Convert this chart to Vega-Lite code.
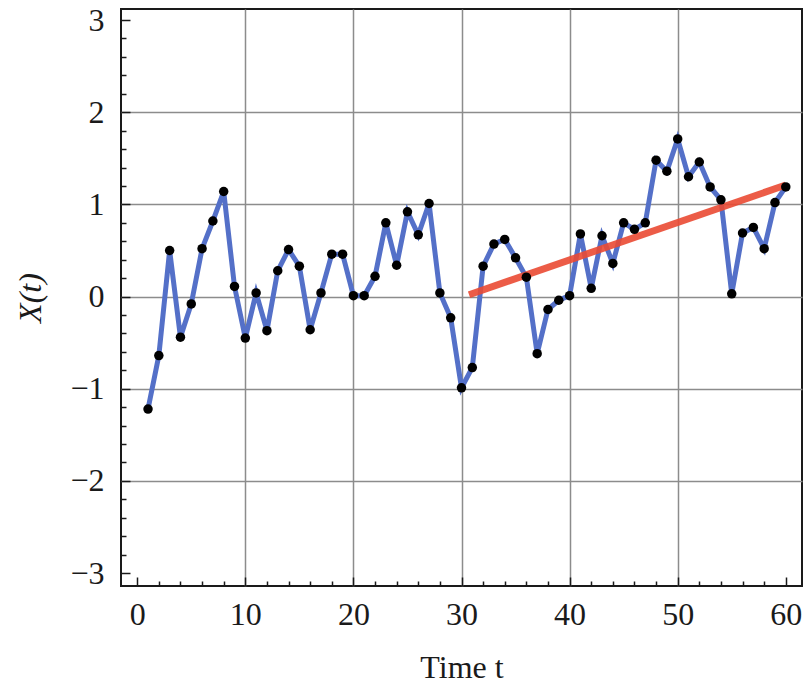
{
  "$schema": "https://vega.github.io/schema/vega-lite/v6.json",
  "width": 681,
  "height": 577,
  "autosize": {"type": "none"},
  "padding": {"left": 121, "top": 9, "right": 1, "bottom": 105},
  "background": "white",
  "config": {
    "view": {"stroke": "#1a1a1a", "strokeWidth": 2},
    "axis": {
      "domain": false,
      "labelFont": "Liberation Serif",
      "labelFontSize": 32,
      "labelColor": "#1a1a1a",
      "titleFont": "Liberation Serif",
      "titleFontSize": 32,
      "titleFontWeight": "normal",
      "titleColor": "#1a1a1a",
      "tickColor": "#1a1a1a",
      "tickWidth": 1.5,
      "gridColor": "#8c8c8c",
      "gridWidth": 1.5,
      "labelFlush": false,
      "labelOverlap": false,
      "tickCount": 200
    }
  },
  "datasets": {
    "series": [
      {"t": 1, "x": -1.22}, {"t": 2, "x": -0.64}, {"t": 3, "x": 0.5}, {"t": 4, "x": -0.44},
      {"t": 5, "x": -0.08}, {"t": 6, "x": 0.52}, {"t": 7, "x": 0.82}, {"t": 8, "x": 1.14},
      {"t": 9, "x": 0.11}, {"t": 10, "x": -0.45}, {"t": 11, "x": 0.04}, {"t": 12, "x": -0.37},
      {"t": 13, "x": 0.28}, {"t": 14, "x": 0.51}, {"t": 15, "x": 0.33}, {"t": 16, "x": -0.36},
      {"t": 17, "x": 0.04}, {"t": 18, "x": 0.46}, {"t": 19, "x": 0.46}, {"t": 20, "x": 0.01},
      {"t": 21, "x": 0.01}, {"t": 22, "x": 0.22}, {"t": 23, "x": 0.8}, {"t": 24, "x": 0.34},
      {"t": 25, "x": 0.92}, {"t": 26, "x": 0.67}, {"t": 27, "x": 1.01}, {"t": 28, "x": 0.04},
      {"t": 29, "x": -0.23}, {"t": 30, "x": -0.99}, {"t": 31, "x": -0.77}, {"t": 32, "x": 0.33},
      {"t": 33, "x": 0.57}, {"t": 34, "x": 0.62}, {"t": 35, "x": 0.42}, {"t": 36, "x": 0.21},
      {"t": 37, "x": -0.62}, {"t": 38, "x": -0.14}, {"t": 39, "x": -0.04}, {"t": 40, "x": 0.01},
      {"t": 41, "x": 0.68}, {"t": 42, "x": 0.09}, {"t": 43, "x": 0.66}, {"t": 44, "x": 0.36},
      {"t": 45, "x": 0.8}, {"t": 46, "x": 0.73}, {"t": 47, "x": 0.8}, {"t": 48, "x": 1.48},
      {"t": 49, "x": 1.36}, {"t": 50, "x": 1.71}, {"t": 51, "x": 1.3}, {"t": 52, "x": 1.46},
      {"t": 53, "x": 1.19}, {"t": 54, "x": 1.05}, {"t": 55, "x": 0.03}, {"t": 56, "x": 0.69},
      {"t": 57, "x": 0.75}, {"t": 58, "x": 0.52}, {"t": 59, "x": 1.02}, {"t": 60, "x": 1.19}
    ],
    "trend": [
      {"t": 30.7, "x": 0.02},
      {"t": 60, "x": 1.21}
    ]
  },
  "layer": [
    {
      "data": {"name": "series"},
      "mark": {"type": "line", "color": "#5470c8", "strokeWidth": 5},
      "encoding": {
        "x": {
          "field": "t", "type": "quantitative",
          "scale": {"domain": [-1.5, 61.5], "nice": false, "zero": false},
          "axis": {
            "title": "Time t",
            "titlePadding": 18,
            "tickCount": 200,
            "tickMinStep": 0.1,
            "values": [0,2,4,6,8,10,12,14,16,18,20,22,24,26,28,30,32,34,36,38,40,42,44,46,48,50,52,54,56,58,60],
            "labelExpr": "datum.value % 10 === 0 ? format(datum.value, 'd') : ''",
            "labelPadding": 22,
            "tickSize": {"condition": {"test": "datum.value % 10 === 0", "value": -9}, "value": -5},
            "gridOpacity": {"condition": {"test": "datum.value % 10 === 0 && datum.value > 5 && datum.value < 55", "value": 1}, "value": 0}
          }
        },
        "y": {
          "field": "x", "type": "quantitative",
          "scale": {"domain": [-3.14, 3.12], "nice": false, "zero": false},
          "axis": {
            "title": "X(t)",
            "titleFontStyle": "italic",
            "titlePadding": 22,
            "tickCount": 200,
            "tickMinStep": 0.1,
            "values": [-3,-2.8,-2.6,-2.4,-2.2,-2,-1.8,-1.6,-1.4,-1.2,-1,-0.8,-0.6,-0.4,-0.2,0,0.2,0.4,0.6,0.8,1,1.2,1.4,1.6,1.8,2,2.2,2.4,2.6,2.8,3],
            "labelExpr": "abs(datum.value - round(datum.value)) < 0.01 ? format(round(datum.value), 'd') : ''",
            "labelPadding": 26,
            "tickSize": {"condition": {"test": "abs(datum.value - round(datum.value)) < 0.01", "value": -9}, "value": -5},
            "gridOpacity": {"condition": {"test": "abs(datum.value - round(datum.value)) < 0.01 && abs(datum.value) < 2.5", "value": 1}, "value": 0}
          }
        }
      }
    },
    {
      "data": {"name": "trend"},
      "mark": {"type": "line", "color": "#ea4a33", "strokeWidth": 7, "opacity": 0.9},
      "encoding": {
        "x": {"field": "t", "type": "quantitative"},
        "y": {"field": "x", "type": "quantitative"}
      }
    },
    {
      "data": {"name": "series"},
      "mark": {"type": "circle", "color": "black", "size": 90, "opacity": 1},
      "encoding": {
        "x": {"field": "t", "type": "quantitative"},
        "y": {"field": "x", "type": "quantitative"}
      }
    }
  ]
}
